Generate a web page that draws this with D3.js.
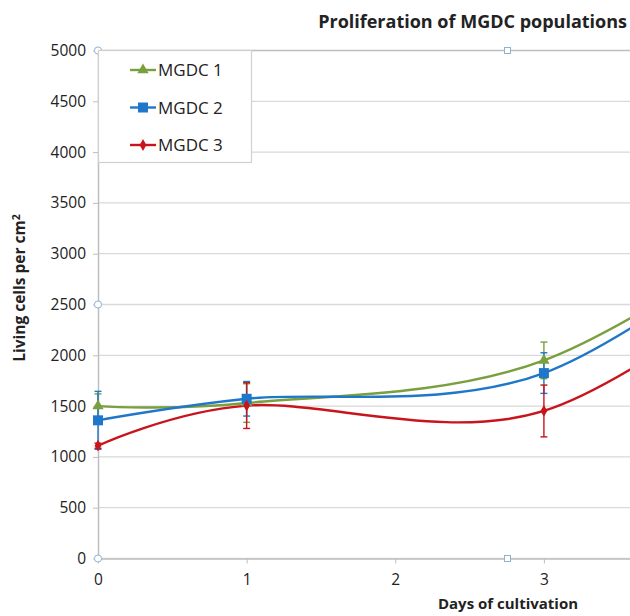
<!DOCTYPE html>
<html><head><meta charset="utf-8">
<script src="https://cdn.jsdelivr.net/npm/d3@7"></script>
<style>body{margin:0;background:#fff}svg{display:block}text{font-family:"Open Sans",sans-serif;fill:#222}</style>
</head><body><svg id="c" width="630" height="616"></svg>
<script>
const days = [0, 1, 3, 5];
const seriesNames = ["MGDC 1", "MGDC 2", "MGDC 3"];
const mgdc1 = [1500, 1530, 1950, 3700];
const mgdc2 = [1360, 1572, 1825, 3740];
const mgdc3 = [1110, 1505, 1452, 3320];
const err1 = [120, 190, 180, 0];
const err2 = [285, 170, 200, 0];
const err3 = [25, 225, 255, 0];
const yTicks = [0, 500, 1000, 1500, 2000, 2500, 3000, 3500, 4000, 4500, 5000];
const xTicks = [0, 1, 2, 3];
const colors = ["#7a9f3f", "#1f77c9", "#c8141c"];

const svg = d3.select("#c");
const x = d3.scaleLinear().domain([0, 5.5]).range([98, 915.5]);
const y = d3.scaleLinear().domain([0, 5000]).range([558.5, 50.5]);

// gridlines
svg.append("g").selectAll("line").data(yTicks).join("line")
  .attr("x1", 98).attr("x2", 915).attr("y1", d => y(d)).attr("y2", d => y(d))
  .attr("stroke", d => d === 5000 ? "#bdbdbd" : "#d9d9d9").attr("stroke-width", d => d === 5000 ? 1.6 : 1.3);

// y axis
const ya = svg.append("g").attr("transform", "translate(98,0)")
  .call(d3.axisLeft(y).tickValues(yTicks).tickSize(5).tickSizeOuter(0).tickPadding(7).tickFormat(d3.format("d")));
ya.select(".domain").attr("stroke", "#bfbfbf").attr("stroke-width", 1.5);
ya.selectAll(".tick line").attr("stroke", "#bfbfbf");
ya.selectAll("text").attr("font-size", 15.5).attr("font-family", "Open Sans").attr("fill", "#222");

// x axis
const xa = svg.append("g").attr("transform", "translate(0,558.5)")
  .call(d3.axisBottom(x).tickValues(xTicks).tickSize(5).tickSizeOuter(0).tickPadding(10).tickFormat(d3.format("d")));
xa.select(".domain").attr("stroke", "#bfbfbf").attr("stroke-width", 1.5);
xa.selectAll(".tick line").attr("stroke", "#bfbfbf");
xa.selectAll("text").attr("font-size", 15.5).attr("font-family", "Open Sans").attr("fill", "#222");

const all = [mgdc1, mgdc2, mgdc3];
const errs = [err1, err2, err3];
const line = d3.line().x(d => x(d[0])).y(d => y(d[1])).curve(d3.curveCardinal.tension(0));

// error bars
all.forEach((vals, i) => {
  const g = svg.append("g").attr("stroke", colors[i]).attr("stroke-width", 1.4);
  days.forEach((dd, j) => {
    if (!errs[i][j]) return;
    const cx = x(dd), lo = y(vals[j] - errs[i][j]), hi = y(vals[j] + errs[i][j]);
    g.append("line").attr("x1", cx).attr("x2", cx).attr("y1", lo).attr("y2", hi);
    g.append("line").attr("x1", cx - 3.5).attr("x2", cx + 3.5).attr("y1", lo).attr("y2", lo);
    g.append("line").attr("x1", cx - 3.5).attr("x2", cx + 3.5).attr("y1", hi).attr("y2", hi);
  });
});

// lines
all.forEach((vals, i) => {
  svg.append("path").datum(days.map((d, j) => [d, vals[j]]))
    .attr("d", line).attr("fill", "none").attr("stroke", colors[i]).attr("stroke-width", 2.4);
});

const symTypes = [d3.symbolTriangle, d3.symbolSquare, d3.symbolDiamond];
const symSizes = [55, 100, 40];
all.forEach((vals, i) => {
  svg.append("g").selectAll("path").data(days.map((d, j) => [d, vals[j]])).join("path")
    .attr("transform", d => `translate(${x(d[0])},${y(d[1])})`)
    .attr("d", d3.symbol().type(symTypes[i]).size(symSizes[i])).attr("fill", colors[i]);
});

// selection handles
const handles = [[0, 5000, "c"], [0, 2500, "c"], [0, 0, "c"], [2.755, 5000, "s"], [2.755, 0, "s"]];
handles.forEach(h => {
  if (h[2] === "c") svg.append("circle").attr("cx", x(h[0])).attr("cy", y(h[1])).attr("r", 3.6)
    .attr("fill", "#fff").attr("stroke", "#8fb3cf").attr("stroke-width", 1);
  else svg.append("rect").attr("x", x(h[0]) - 3).attr("y", y(h[1]) - 3).attr("width", 6).attr("height", 6)
    .attr("fill", "#fff").attr("stroke", "#8fb3cf").attr("stroke-width", 1);
});

// legend
const lg = svg.append("g");
lg.append("rect").attr("x", 98.5).attr("y", 50.5).attr("width", 153).attr("height", 112)
  .attr("fill", "#fff").attr("stroke", "#d0d0d0").attr("stroke-width", 1.2);
const legY = [70, 107.5, 145];
seriesNames.forEach((n, i) => {
  lg.append("line").attr("x1", 130).attr("x2", 156).attr("y1", legY[i]).attr("y2", legY[i])
    .attr("stroke", colors[i]).attr("stroke-width", 2.4);
  lg.append("path").attr("transform", `translate(143,${legY[i]})`)
    .attr("d", d3.symbol().type(symTypes[i]).size(symSizes[i])).attr("fill", colors[i]);
  lg.append("text").attr("x", 158).attr("y", legY[i] + 6).attr("font-size", 17).text(n);
});

// titles
svg.append("text").attr("x", 627).attr("y", 28).attr("text-anchor", "end")
  .attr("font-size", 18).attr("font-weight", "bold").text("Proliferation of MGDC populations");
svg.append("text").attr("x", 508).attr("y", 609).attr("text-anchor", "middle")
  .attr("font-size", 15).attr("font-weight", "bold").text("Days of cultivation");
const yt = svg.append("text").attr("transform", "translate(25,288) rotate(-90)").attr("text-anchor", "middle")
  .attr("font-size", 15.5).attr("font-weight", "bold");
yt.append("tspan").text("Living cells per cm");
yt.append("tspan").attr("dy", -5).attr("font-size", 10.5).text("2");
</script></body></html>
